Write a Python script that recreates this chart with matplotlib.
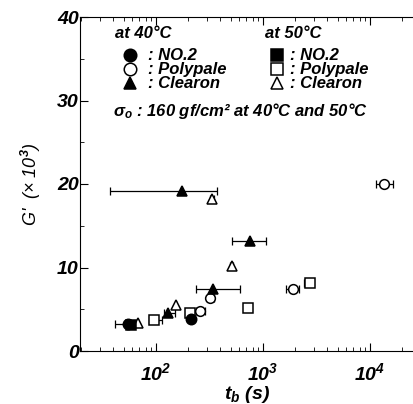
import numpy as np
import matplotlib.pyplot as plt

plt.rcParams['font.family'] = ['Liberation Sans', 'DejaVu Sans']
plt.rcParams['font.weight'] = 'bold'
plt.rcParams['font.style'] = 'italic'
plt.rcParams['mathtext.fontset'] = 'custom'
plt.rcParams['mathtext.rm'] = 'Liberation Sans:bold:italic'
plt.rcParams['mathtext.it'] = 'Liberation Sans:bold:italic'
plt.rcParams['mathtext.bf'] = 'Liberation Sans:bold:italic'
plt.rcParams['mathtext.default'] = 'rm'

# data: tb (s), G' (x10^3), horizontal error bar limits
no2_40 = dict(x=[55, 212], y=[3.2, 3.8], xlo=[41, 212], xhi=[55, 212])
poly_40 = dict(x=[320, 258, 1920, 13600], y=[6.4, 4.8, 7.4, 20.0],
               xlo=[300, 235, 1650, 11500], xhi=[345, 285, 2150, 16500])
clear_40 = dict(x=[174, 755, 338, 130], y=[19.2, 13.2, 7.4, 4.6],
                xlo=[37, 516, 237, 118], xhi=[369, 1067, 610, 150])
no2_50 = dict(x=[58], y=[3.1], xlo=[58], xhi=[58])
poly_50 = dict(x=[96, 208, 729, 2750], y=[3.7, 4.6, 5.1, 8.1],
               xlo=[86, 195, 729, 2400], xhi=[113, 225, 729, 2750])
clear_50 = dict(x=[336, 509, 154, 68], y=[18.2, 10.2, 5.5, 3.4],
                xlo=[320, 490, 154, 68], xhi=[350, 530, 154, 68])

fig = plt.figure(figsize=(4.14, 4.04), dpi=100)
ax = fig.add_axes([80/414, 53/404, 1 - 80/414, 334/404])
ax.set_xscale('log')
ax.set_xlim(19.5, 25800)
ax.set_ylim(0, 40)
ax.spines['right'].set_visible(False)


def draw(d, marker, filled, ms):
    x = np.array(d['x'])
    y = np.array(d['y'])
    xerr = [x - np.array(d['xlo']), np.array(d['xhi']) - x]
    ax.errorbar(x, y, xerr=xerr, fmt='none', ecolor='black', elinewidth=0.9,
                capsize=3, capthick=0.9, zorder=2)
    ax.plot(x, y, linestyle='none', marker=marker, ms=ms,
            mfc='black' if filled else 'white', mec='black', mew=1.1, zorder=3)


draw(poly_40, 'o', False, 7)
draw(poly_50, 's', False, 7)
draw(clear_50, '^', False, 7)
draw(no2_40, 'o', True, 7.5)
draw(no2_50, 's', True, 7)
draw(clear_40, '^', True, 7)

ax.set_yticks([0, 10, 20, 30, 40])
ax.set_yticks([5, 15, 25, 35], minor=True)
ax.set_xticks([100, 1000, 10000])
ax.set_xticklabels(['$10^{2}$', '$10^{3}$', '$10^{4}$'])
ax.tick_params(axis='both', which='both', direction='in', top=True, right=False)
ax.tick_params(axis='both', which='major', length=6, labelsize=14)
ax.tick_params(axis='both', which='minor', length=3)
ax.tick_params(axis='y', pad=1)
ax.tick_params(axis='x', pad=8)

ax.set_xlabel('$t_b$ $(s)$', fontsize=14, labelpad=0)
ax.set_ylabel("G'  (× 10$^3$)", fontsize=13, labelpad=10)

# legend block
fs = 12
ax.text(0.105, 0.952, 'at 40°C', transform=ax.transAxes, fontsize=fs, va='center')
ax.text(0.553, 0.952, 'at 50°C', transform=ax.transAxes, fontsize=fs, va='center')
rows = [0.886, 0.844, 0.802]
names = [': NO.2', ': Polypale', ': Clearon']
left_m = [('o', True), ('o', False), ('^', True)]
right_m = [('s', True), ('s', False), ('^', False)]
for yy, nm, lm, rm in zip(rows, names, left_m, right_m):
    ax.plot(0.15, yy, marker=lm[0], ms=9, mfc='black' if lm[1] else 'white',
            mec='black', mew=1.1, transform=ax.transAxes, clip_on=False)
    ax.text(0.205, yy, nm, transform=ax.transAxes, fontsize=fs, va='center')
    ax.plot(0.59, yy, marker=rm[0], ms=9, mfc='black' if rm[1] else 'white',
            mec='black', mew=1.1, transform=ax.transAxes, clip_on=False)
    ax.text(0.63, yy, nm, transform=ax.transAxes, fontsize=fs, va='center')
ax.text(0.1, 0.72, 'σ$_o$ : 160 gf/cm² at 40°C and 50°C', transform=ax.transAxes,
        fontsize=fs, va='center')

fig.savefig('out.png', dpi=100)
